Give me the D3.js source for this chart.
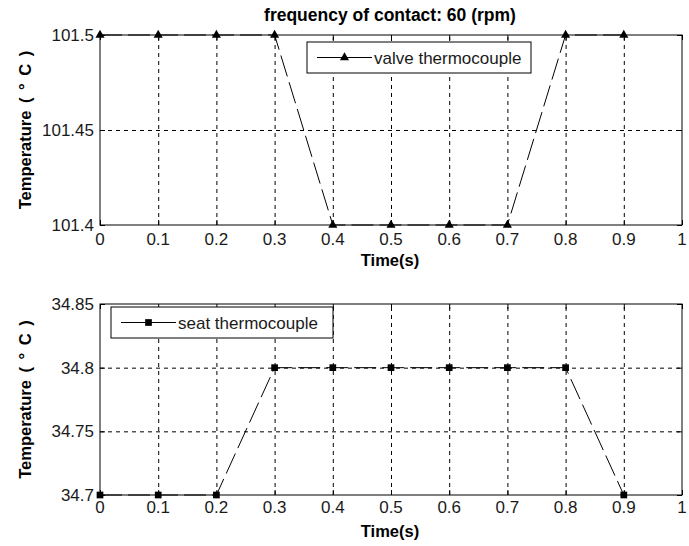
<!DOCTYPE html>
<html>
<head>
<meta charset="utf-8">
<script src="https://cdn.jsdelivr.net/npm/d3@7"></script>
<style>
  html, body { margin: 0; padding: 0; background: #fff; }
  svg { display: block; }
  text { font-family: "Liberation Sans", Arial, sans-serif; }
</style>
</head>
<body>
<svg id="chart" width="689" height="546"></svg>
<script>
// ---- data ----
const timeValues = [0, 0.1, 0.2, 0.3, 0.4, 0.5, 0.6, 0.7, 0.8, 0.9];
const valveTemps = [101.5, 101.5, 101.5, 101.5, 101.4, 101.4, 101.4, 101.4, 101.5, 101.5];
const seatTemps  = [34.7, 34.7, 34.7, 34.8, 34.8, 34.8, 34.8, 34.8, 34.8, 34.7];
const xTickValues = [0, 0.1, 0.2, 0.3, 0.4, 0.5, 0.6, 0.7, 0.8, 0.9, 1];
const xTickLabels = ["0", "0.1", "0.2", "0.3", "0.4", "0.5", "0.6", "0.7", "0.8", "0.9", "1"];
const valveYTicks = [101.4, 101.45, 101.5];
const valveYLabels = ["101.4", "101.45", "101.5"];
const seatYTicks = [34.7, 34.75, 34.8, 34.85];
const seatYLabels = ["34.7", "34.75", "34.8", "34.85"];
const titleText = "frequency of contact: 60 (rpm)";
const xLabelText = "Time(s)";
const yLabelText = "Temperature ( \u00B0 C )";
const valveName = "valve thermocouple";
const seatName = "seat thermocouple";

const svg = d3.select("#chart");

function panel(cfg) {
  const x = d3.scaleLinear().domain([0, 1]).range([100, 682]);
  const y = d3.scaleLinear().domain(cfg.yDomain).range([cfg.bottom, cfg.top]);
  const g = svg.append("g");
  const W = 682 - 100, H = cfg.bottom - cfg.top;

  // grid (dotted)
  const interiorX = xTickValues.filter(v => v > 0 && v < 1);
  const interiorY = cfg.yTicks.filter(v => v > cfg.yDomain[0] && v < cfg.yDomain[1]);
  g.append("g").attr("transform", `translate(0,${cfg.bottom})`)
    .call(d3.axisBottom(x).tickValues(interiorX).tickSize(-H).tickFormat(""))
    .call(s => s.select(".domain").remove())
    .call(s => s.selectAll("line").attr("stroke", "#000").attr("stroke-dasharray", "4,4"));
  g.append("g").attr("transform", `translate(100,0)`)
    .call(d3.axisLeft(y).tickValues(interiorY).tickSize(-W).tickFormat(""))
    .call(s => s.select(".domain").remove())
    .call(s => s.selectAll("line").attr("stroke", "#000").attr("stroke-dasharray", "4,4"));

  // data line
  const line = d3.line().x((d, i) => x(timeValues[i])).y(d => y(d));
  g.append("path").datum(cfg.values)
    .attr("d", line).attr("fill", "none").attr("stroke", "#000")
    .attr("stroke-width", 1).attr("stroke-dasharray", "22,6");

  // frame + inward ticks
  g.append("rect").attr("x", 100).attr("y", cfg.top).attr("width", W).attr("height", H)
    .attr("fill", "none").attr("stroke", "#000").attr("stroke-width", 1);
  const tickLen = 5;
  const bx = g.append("g").attr("transform", `translate(0,${cfg.bottom})`)
    .call(d3.axisBottom(x).tickValues(xTickValues).tickSize(-tickLen).tickFormat(""));
  const tx = g.append("g").attr("transform", `translate(0,${cfg.top})`)
    .call(d3.axisTop(x).tickValues(xTickValues).tickSize(-tickLen).tickFormat(""));
  const ly = g.append("g").attr("transform", `translate(100,0)`)
    .call(d3.axisLeft(y).tickValues(cfg.yTicks).tickSize(-tickLen).tickFormat(""));
  const ry = g.append("g").attr("transform", `translate(682,0)`)
    .call(d3.axisRight(y).tickValues(cfg.yTicks).tickSize(-tickLen).tickFormat(""));
  [bx, tx, ly, ry].forEach(a => {
    a.select(".domain").remove();
    a.selectAll("line").attr("stroke", "#000");
  });

  // tick labels
  g.selectAll(".xl").data(xTickValues).enter().append("text")
    .attr("x", d => x(d)).attr("y", cfg.xLabelBase)
    .attr("text-anchor", "middle").attr("font-size", "17px").attr("fill", "#1a1a1a")
    .text((d, i) => xTickLabels[i]);
  g.selectAll(".yl").data(cfg.yTicks).enter().append("text")
    .attr("x", 94).attr("y", d => y(d) + 6)
    .attr("text-anchor", "end").attr("font-size", "17px").attr("fill", "#1a1a1a")
    .text((d, i) => cfg.yLabels[i]);

  // axis titles
  g.append("text").attr("x", 390).attr("y", cfg.timeBase)
    .attr("text-anchor", "middle").attr("font-size", "16.5px").attr("font-weight", "bold")
    .text(xLabelText);
  g.append("text")
    .attr("transform", `translate(31,${(cfg.top + cfg.bottom) / 2}) rotate(-90)`)
    .attr("text-anchor", "middle").attr("font-size", "16.5px").attr("font-weight", "bold")
    .attr("word-spacing", "3px")
    .text(yLabelText);

  // markers
  const sym = d3.symbol().type(cfg.symbol).size(cfg.symSize);
  g.selectAll(".mk").data(cfg.values).enter().append("path")
    .attr("d", sym)
    .attr("transform", (d, i) => `translate(${x(timeValues[i])},${y(d)})`)
    .attr("fill", "#000");

  // legend
  const L = cfg.legend;
  g.append("rect").attr("x", L.x).attr("y", L.y).attr("width", L.w).attr("height", L.h)
    .attr("fill", "#fff").attr("stroke", "#000").attr("stroke-width", 1);
  const cy = L.y + L.h / 2;
  g.append("line").attr("x1", L.x + 10).attr("x2", L.x + 65).attr("y1", cy).attr("y2", cy)
    .attr("stroke", "#000");
  g.append("path").attr("d", sym)
    .attr("transform", `translate(${L.x + 37.5},${cy})`).attr("fill", "#000");
  g.append("text").attr("x", L.x + 67).attr("y", cy + 6)
    .attr("font-size", "17px").attr("fill", "#1a1a1a").text(L.name);
}

panel({
  top: 35, bottom: 225, yDomain: [101.4, 101.5],
  yTicks: valveYTicks, yLabels: valveYLabels, values: valveTemps,
  symbol: d3.symbolTriangle, symSize: 36,
  xLabelBase: 245, timeBase: 266,
  legend: { x: 307, y: 42, w: 224, h: 31, name: valveName }
});
panel({
  top: 304, bottom: 495, yDomain: [34.7, 34.85],
  yTicks: seatYTicks, yLabels: seatYLabels, values: seatTemps,
  symbol: d3.symbolSquare, symSize: 45,
  xLabelBase: 513, timeBase: 537,
  legend: { x: 111, y: 307, w: 222, h: 31, name: seatName }
});

// title
svg.append("text").attr("x", 390).attr("y", 21)
  .attr("text-anchor", "middle").attr("font-size", "17.5px").attr("font-weight", "bold")
  .text(titleText);
</script>
</body>
</html>
